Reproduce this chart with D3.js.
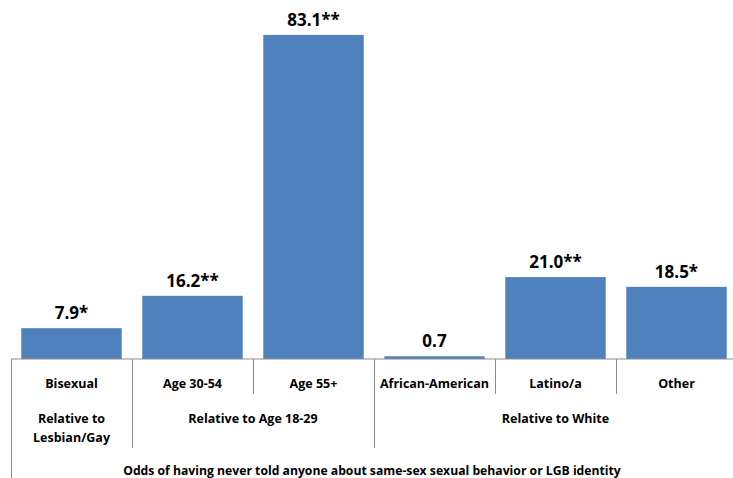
<!DOCTYPE html>
<html>
<head>
<meta charset="utf-8">
<script src="https://cdn.jsdelivr.net/npm/d3@7"></script>
<style>
  body { margin: 0; background: #fff; }
  text { font-family: "Open Sans", Lato, sans-serif; font-weight: bold; fill: #000; }
</style>
</head>
<body>
<div id="chart"></div>
<script>
// data
var categories = ["Bisexual", "Age 30-54", "Age 55+", "African-American", "Latino/a", "Other"];
var values = [7.9, 16.2, 83.1, 0.7, 21.0, 18.5];
var stars = ["*", "**", "**", "", "**", "*"];
var groupLabels = [["Relative to", "Lesbian/Gay"], ["Relative to Age 18-29"], ["Relative to White"]];
var groupStart = [0, 1, 3];
var groupEnd = [0, 2, 5];
var axisTitle = "Odds of having never told anyone about same-sex sexual behavior or LGB identity";

var width = 733, height = 478;
var base = 359;

var svg = d3.select("#chart")
  .append("svg")
  .attr("width", width)
  .attr("height", height);

// Scales
var x = d3.scaleBand()
  .domain(d3.range(categories.length))
  .range([11, 737])
  .paddingInner(0.17)
  .paddingOuter(0.085);

var y = d3.scaleLinear()
  .domain([0, 90])
  .range([base, 8]);

var step = x.step();
var left = x.range()[0];

// bars
svg.selectAll("rect.bar")
  .data(values)
  .enter().append("rect")
  .attr("class", "bar")
  .attr("x", function(d, i) { return x(i); })
  .attr("width", x.bandwidth())
  .attr("y", function(d) { return y(d); })
  .attr("height", function(d) { return base - y(d); })
  .attr("fill", "#4F81BD");

// value labels
svg.selectAll("text.val")
  .data(values)
  .enter().append("text")
  .attr("class", "val")
  .attr("text-anchor", "middle")
  .attr("x", function(d, i) { return x(i) + x.bandwidth() / 2; })
  .attr("y", function(d) { return y(d) - 9; })
  .style("font-size", "17px")
  .text(function(d, i) { return d.toFixed(1) + stars[i]; });

// baseline
svg.append("line")
  .attr("x1", left).attr("x2", width)
  .attr("y1", base).attr("y2", base)
  .attr("stroke", "#8c8c8c");

// separators: short inside a group, long between groups
var groupEdges = groupStart.concat([categories.length]);
d3.range(categories.length + 1).forEach(function(i) {
  var xx = Math.round(left + i * step) + 0.5;
  var y2 = groupEdges.indexOf(i) >= 0 ? 448 : 394;
  if (i === 0) y2 = height;
  svg.append("line")
    .attr("x1", xx).attr("x2", xx)
    .attr("y1", base).attr("y2", y2)
    .attr("stroke", "#8c8c8c");
});

// category labels
svg.selectAll("text.cat")
  .data(categories)
  .enter().append("text")
  .attr("class", "cat")
  .attr("text-anchor", "middle")
  .attr("x", function(d, i) { return left + (i + 0.5) * step; })
  .attr("y", 388)
  .style("font-size", "12.5px")
  .text(function(d) { return d; });

// group labels
groupLabels.forEach(function(lines, g) {
  var cx = left + (groupStart[g] + groupEnd[g] + 1) / 2 * step;
  lines.forEach(function(t, k) {
    svg.append("text")
      .attr("text-anchor", "middle")
      .attr("x", cx)
      .attr("y", 423 + k * 19)
      .style("font-size", "12.5px")
      .text(t);
  });
});

// axis title
svg.append("text")
  .attr("text-anchor", "middle")
  .attr("x", 372)
  .attr("y", 475)
  .style("font-size", "12.2px")
  .text(axisTitle);
</script>
</body>
</html>
